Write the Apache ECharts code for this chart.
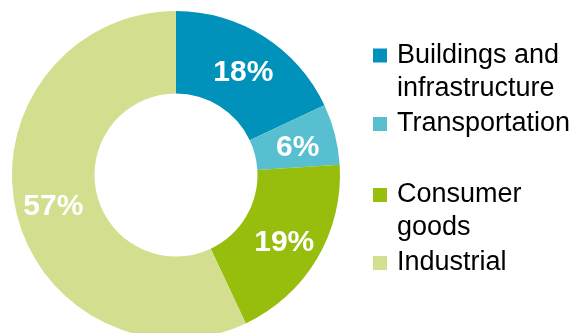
<!DOCTYPE html>
<html>
<head>
<meta charset="utf-8">
<script src="https://cdn.jsdelivr.net/npm/echarts@6/dist/echarts.min.js"></script>
<style>
html,body{margin:0;padding:0;background:#fff;}
#chart{width:578px;height:333px;}
</style>
</head>
<body>
<div id="chart"></div>
<script>
var categories = ['Buildings and\ninfrastructure', 'Transportation', 'Consumer\ngoods', 'Industrial'];
var values = [18, 6, 19, 57];
var colors = ['#0092bb', '#57bfcf', '#97be0d', '#d3df8e'];

var chart = echarts.init(document.getElementById('chart'), null, {renderer: 'canvas'});

var legendCenters = [55.5, 124, 195, 263];
var lh = 33;
var legends = categories.map(function (name, i) {
  var lines = name.split('\n').length;
  var shown = lines > 1 ? 2 * lines - 1 : 1;
  var boxH = lh * shown;
  return {
    show: true,
    data: [name],
    left: 373,
    top: legendCenters[i] - boxH / 2,
    orient: 'vertical',
    padding: 0,
    itemWidth: 19,
    itemHeight: 14,
    itemGap: 0,
    icon: 'path://M0,0L14,0L14,14L0,14Z M19,0L19,14',
    selectedMode: false,
    formatter: function (n) {
      var k = n.split('\n').length;
      var pre = '';
      for (var j = 1; j < k; j++) pre += ' \n';
      return pre + n;
    },
    textStyle: {
      fontFamily: 'Liberation Sans, Arial, sans-serif',
      fontSize: 27,
      color: '#000',
      lineHeight: lh
    }
  };
});

var option = {
  animation: false,
  color: colors,
  legend: legends,
  series: [{
    type: 'pie',
    center: [176, 175],
    radius: [81.5, 164],
    startAngle: 90,
    clockwise: true,
    avoidLabelOverlap: false,
    itemStyle: {borderWidth: 0},
    label: {
      show: true,
      position: 'inside',
      formatter: '{c}%',
      color: '#fff',
      fontFamily: 'Liberation Sans, Arial, sans-serif',
      fontWeight: 'bold',
      fontSize: 30
    },
    labelLayout: {dy: 4},
    labelLine: {show: false},
    emphasis: {disabled: true},
    data: categories.map(function (n, i) { return {name: n, value: values[i]}; })
  }]
};
chart.setOption(option);
</script>
</body>
</html>
